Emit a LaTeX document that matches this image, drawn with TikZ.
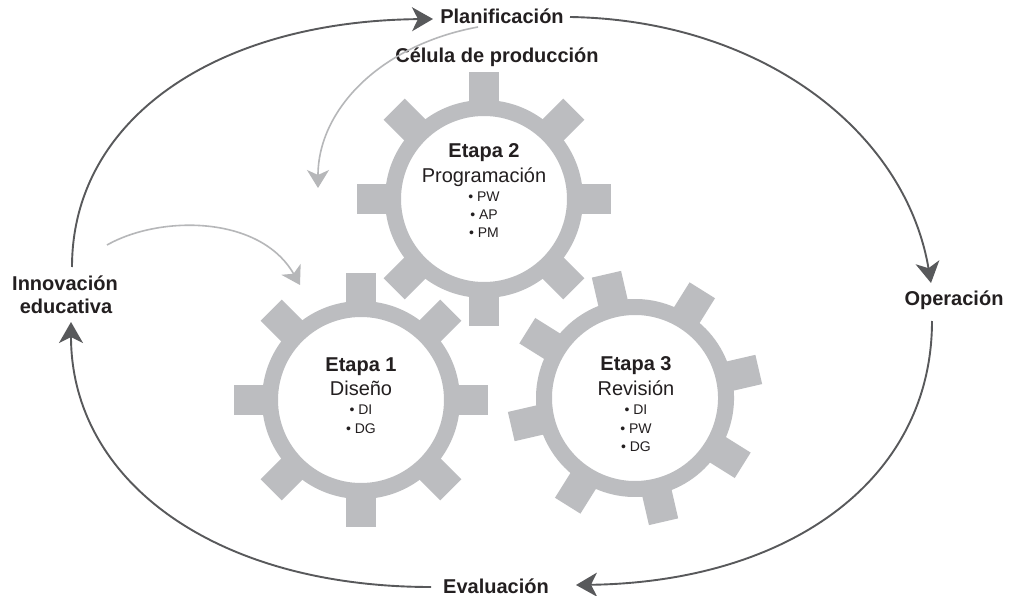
\documentclass[tikz,border=0pt]{standalone}
\usepackage{fontspec}
\setmainfont{Liberation Sans}
\usetikzlibrary{arrows.meta}
\definecolor{gearc}{RGB}{188,189,192}
\definecolor{darkc}{RGB}{88,89,91}
\definecolor{lightc}{RGB}{182,183,185}
\definecolor{textc}{RGB}{35,31,32}
\newcommand{\mygear}[3]{%
  \begin{scope}[shift={(#1,#2)},rotate=#3]
    \draw[gearc,line width=16pt] (0,0) circle[radius=91pt];
    \foreach \a in {0,45,...,315}
      \fill[gearc,rotate=\a] (86,-15) rectangle (127,15);
  \end{scope}}
\tikzset{
  lbl/.style={anchor=base,text=textc,inner sep=0pt,font=\bfseries\fontsize{20}{24}\selectfont},
  stage/.style={anchor=base,text=textc,inner sep=0pt,font=\fontsize{20}{24}\selectfont},
  item/.style={anchor=base,text=textc,inner sep=0pt,font=\fontsize{14}{17}\selectfont},
  cyc/.style={draw=darkc,line width=1.9pt,-{Stealth[length=21pt,width=24pt,inset=6pt]}},
  feed/.style={draw=lightc,line width=1.6pt,-{Stealth[length=18pt,width=22pt,inset=5pt]}}
}
\begin{document}
\begin{tikzpicture}[x=1pt,y=-1pt]
\useasboundingbox[fill=white] (0,0) rectangle (1009,596);
% gears
\mygear{484}{199}{0}
\mygear{361}{400}{0}
\mygear{635}{398}{13}
% labels
\node[lbl] (plan) at (502,24) {Planificación};
\node[lbl] (cel) at (497,63) {Célula de producción};
\node[lbl] (inn1) at (65,290) {Innovación};
\node[lbl] (inn2) at (66,313) {educativa};
\node[lbl] (oper) at (954,305) {Operación};
\node[lbl] (eval) at (496,593) {Evaluación};
% gear 2 text
\node[lbl] (e2) at (484,158) {Etapa 2};
\node[stage] (s2) at (484,183) {Programación};
\node[item] (i21) at (484,201) {• PW};
\node[item] (i22) at (484,219) {• AP};
\node[item] (i23) at (484,237) {• PM};
% gear 1 text
\node[lbl] (e1) at (361,371) {Etapa 1};
\node[stage] (s1) at (361,395) {Diseño};
\node[item] (i11) at (361,414) {• DI};
\node[item] (i12) at (361,433) {• DG};
% gear 3 text
\node[lbl] (e3) at (636,370) {Etapa 3};
\node[stage] (s3) at (636,395) {Revisión};
\node[item] (i31) at (636,414) {• DI};
\node[item] (i32) at (636,433) {• PW};
\node[item] (i33) at (636,451) {• DG};
% connector end points
\coordinate (c1s) at (72,267);
\coordinate (c1e) at (433,19);
\coordinate (c2s) at (570,17);
\coordinate (c2e) at (931,283);
\coordinate (c3s) at (932,321);
\coordinate (c3e) at (576,585);
\coordinate (c4s) at (431,587);
\coordinate (c4e) at (71,322);
\coordinate (fAs) at (478,27);
\coordinate (fAe) at (318,188);
\coordinate (fBs) at (107,245);
\coordinate (fBe) at (300,285);
% cycle arrows
\draw[cyc] (c1s) .. controls (72,119) and (216,21) .. (c1e);
\draw[cyc] (c2s) .. controls (760,20) and (905,130) .. (c2e);
\draw[cyc] (c3s) .. controls (932,480) and (789,582) .. (c3e);
\draw[cyc] (c4s) .. controls (215,587) and (71,481) .. (c4e);
% feed arrows
\draw[feed] (fAs) .. controls (380,45) and (318,110) .. (fAe);
\draw[feed] (fBs) .. controls (160,215) and (260,215) .. (fBe);
\end{tikzpicture}
\end{document}
